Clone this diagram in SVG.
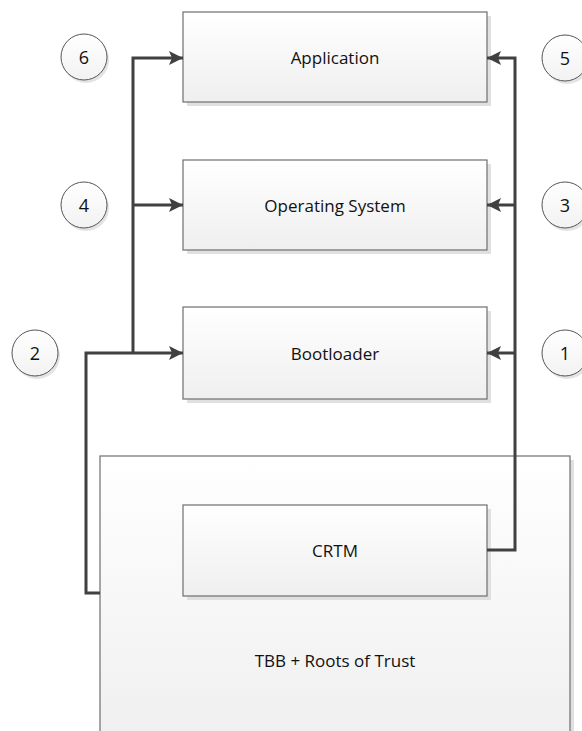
<svg xmlns="http://www.w3.org/2000/svg" width="582" height="731" viewBox="0 0 582 731">
  <defs>
    <linearGradient id="boxFill" x1="0" y1="0" x2="0" y2="1">
      <stop offset="0" stop-color="#ffffff"/>
      <stop offset="1" stop-color="#efefef"/>
    </linearGradient>
    <linearGradient id="circleFill" x1="0" y1="0" x2="0" y2="1">
      <stop offset="0" stop-color="#ffffff"/>
      <stop offset="1" stop-color="#f2f2f2"/>
    </linearGradient>
    <marker id="arrow" viewBox="0 0 14 14" refX="14" refY="7" markerWidth="14" markerHeight="14" markerUnits="userSpaceOnUse" orient="auto">
      <path d="M0,0 L14,7 L0,14 L3,7 Z" fill="#404040"/>
    </marker>
  </defs>
  <style>
    .shadow { fill: #e0e0e0; }
    .box { fill: url(#boxFill); stroke: #6e6e6e; stroke-width: 1.2; }
    .circle { fill: url(#circleFill); stroke: #555555; stroke-width: 1; }
    .cshadow { fill: #e4e4e4; }
    .label { font-family: "Open Sans", "Liberation Sans", sans-serif; font-size: 17px; fill: #111111; text-anchor: middle; dominant-baseline: central; }
    .num { font-family: "Open Sans", "Liberation Sans", sans-serif; font-size: 18px; fill: #111111; text-anchor: middle; dominant-baseline: central; }
    .wire { fill: none; stroke: #404040; stroke-width: 3; }
  </style>

  <rect width="582" height="731" fill="#ffffff"/>

  <!-- platform block -->
  <g id="tbb">
    <rect class="shadow" x="104" y="460" width="470" height="290"/>
    <rect class="box" x="100" y="456" width="470" height="290"/>
    <text class="label" x="335" y="660">TBB + Roots of Trust</text>
  </g>

  <g id="crtm">
    <rect class="shadow" x="187" y="509" width="304" height="91"/>
    <rect class="box" x="183" y="505" width="304" height="91"/>
    <text class="label" x="335" y="550">CRTM</text>
  </g>

  <g id="bootloader">
    <rect class="shadow" x="187" y="311" width="304" height="92"/>
    <rect class="box" x="183" y="307" width="304" height="92"/>
    <text class="label" x="335" y="353">Bootloader</text>
  </g>

  <g id="os">
    <rect class="shadow" x="187" y="164" width="304" height="90"/>
    <rect class="box" x="183" y="160" width="304" height="90"/>
    <text class="label" x="335" y="205">Operating System</text>
  </g>

  <g id="application">
    <rect class="shadow" x="187" y="16" width="304" height="90"/>
    <rect class="box" x="183" y="12" width="304" height="90"/>
    <text class="label" x="335" y="57">Application</text>
  </g>

  <!-- connectors -->
  <g id="connectors">
    <path class="wire" d="M100,593 H86 V353 H183" marker-end="url(#arrow)"/>
    <path class="wire" d="M133,353 V58 H183" marker-end="url(#arrow)"/>
    <path class="wire" d="M133,205 H183" marker-end="url(#arrow)"/>
    <path class="wire" d="M487,550 H515 V58 H487" marker-end="url(#arrow)"/>
    <path class="wire" d="M515,205 H487" marker-end="url(#arrow)"/>
    <path class="wire" d="M515,353 H487" marker-end="url(#arrow)"/>
  </g>

  <!-- step numbers -->
  <g id="step6">
    <circle class="cshadow" cx="86" cy="60" r="23"/>
    <circle class="circle" cx="84" cy="57" r="23"/>
    <text class="num" x="84" y="57">6</text>
  </g>
  <g id="step4">
    <circle class="cshadow" cx="86" cy="208" r="23"/>
    <circle class="circle" cx="84" cy="205" r="23"/>
    <text class="num" x="84" y="205">4</text>
  </g>
  <g id="step2">
    <circle class="cshadow" cx="37" cy="356" r="23"/>
    <circle class="circle" cx="35" cy="353" r="23"/>
    <text class="num" x="35" y="353">2</text>
  </g>
  <g id="step5">
    <circle class="cshadow" cx="567" cy="61" r="23"/>
    <circle class="circle" cx="565" cy="58" r="23"/>
    <text class="num" x="565" y="58">5</text>
  </g>
  <g id="step3">
    <circle class="cshadow" cx="567" cy="208" r="23"/>
    <circle class="circle" cx="565" cy="205" r="23"/>
    <text class="num" x="565" y="205">3</text>
  </g>
  <g id="step1">
    <circle class="cshadow" cx="567" cy="356" r="23"/>
    <circle class="circle" cx="565" cy="353" r="23"/>
    <text class="num" x="565" y="353">1</text>
  </g>
</svg>
